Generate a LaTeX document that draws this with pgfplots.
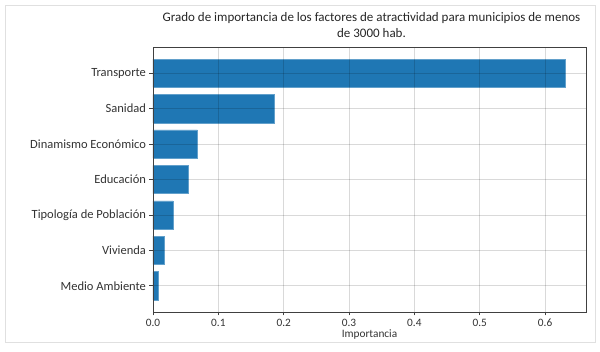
\documentclass[border=0pt]{standalone}
\usepackage{fontspec}
\setmainfont{Carlito}
\usepackage{pgfplots}
\pgfplotsset{compat=1.18}
\definecolor{barblue}{HTML}{1F77B4}
\begin{document}
\begin{tikzpicture}
\begin{axis}[
  name=ax,
  scale only axis, width=433pt, height=265pt,
  xmin=0, xmax=0.6626, ymin=-0.74, ymax=6.74,
  axis on top,
  grid=major,
  grid style={black, opacity=0.15, line width=0.8pt},
  axis line style={black!75, line width=0.8pt},
  tick style={black!75, line width=0.8pt},
  tick align=outside,
  tick pos=left,
  major tick length=3.5pt,
  xtick={0,0.1,...,0.6},
  ytick={0,1,2,3,4,5,6},
  yticklabels={Medio Ambiente, Vivienda, Tipología de Población, Educación, Dinamismo Económico, Sanidad, Transporte},
  xticklabel style={/pgf/number format/fixed, /pgf/number format/fixed zerofill, /pgf/number format/precision=1, /pgf/number format/assume math mode=true, font=\fontsize{11.3}{13}\selectfont, text=black!80},
  yticklabel style={font=\fontsize{12.5}{14}\selectfont, text=black!80},
  xlabel={Importancia},
  xlabel style={font=\fontsize{11.3}{13}\selectfont, text=black!80, yshift=4pt},
]
\addplot[xbar, bar width=0.8, fill=barblue, draw=barblue!70!white, line width=0.4pt] coordinates {
  (0.0077,0) (0.0174,1) (0.0303,2) (0.0534,3) (0.068,4) (0.185,5) (0.631,6)
};
\end{axis}
\pgfresetboundingbox
\path[use as bounding box] (ax.south west) ++(-153pt,-39pt) rectangle ++(600pt,351pt);
\draw[black!12, line width=0.8pt] (ax.south west) ++(-148pt,-30pt) rectangle ++(590pt,337pt);
\node[font=\fontsize{13}{16}\selectfont, align=center, text=black!85] at ([xshift=2pt,yshift=22pt]ax.north) {Grado de importancia de los factores de atractividad para municipios de menos\\de 3000 hab.};
\end{tikzpicture}
\end{document}
